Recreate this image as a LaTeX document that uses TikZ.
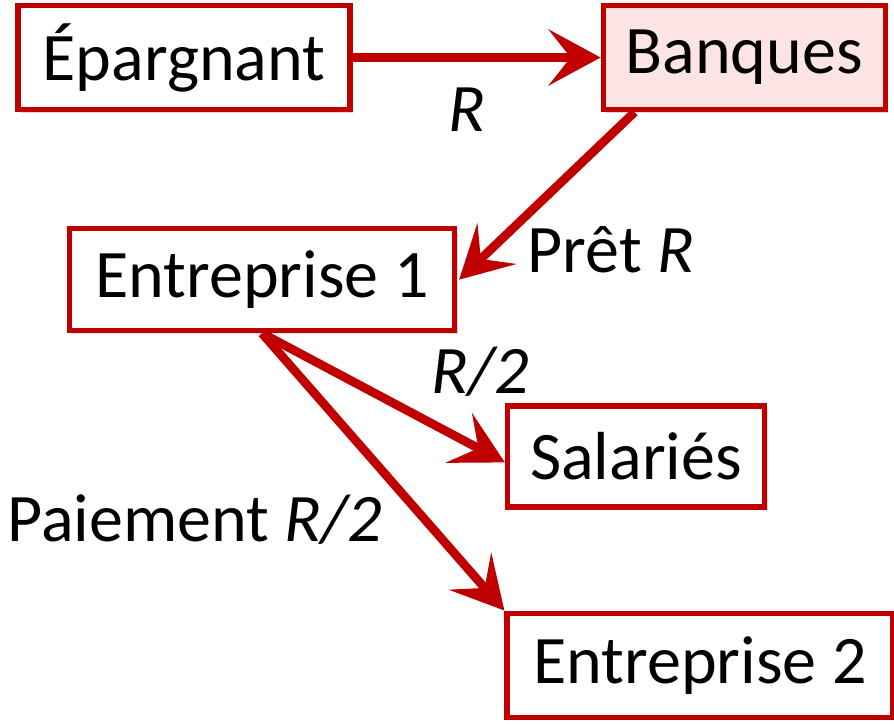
\documentclass[tikz,border=0pt]{standalone}
\usepackage{fontspec}
\setmainfont{Carlito}
\usetikzlibrary{positioning,arrows.meta,shadows}
\definecolor{rouge}{HTML}{C00000}
\definecolor{rose}{HTML}{FDE4E4}

\begin{document}
\begin{tikzpicture}[
	box/.style={draw=rouge, line width=2.6pt, fill=white, inner sep=0pt,
		minimum height=52pt, font=\fontsize{34}{40}\selectfont,
		drop shadow={shadow xshift=1.5pt, shadow yshift=-1.5pt, opacity=0.3}},
	flux/.style={draw=rouge, line width=4.4pt,
		-{Stealth[length=26pt, width=28pt, inset=11pt]}},
	lab/.style={font=\fontsize{34}{40}\selectfont}
]
			\useasboundingbox (0,0) rectangle (447pt,-362pt);

			\node[box, minimum width=166pt] (epargnant) at (92pt,-28.75pt) {Épargnant};
			\node[box, minimum width=141pt, fill=rose] (banques)[right=124pt of epargnant] {Banques};
			\node[box, minimum width=192.5pt, minimum height=51pt] (ent1)[below=57pt of epargnant, xshift=39pt] {Entreprise 1};
			\node[box, minimum width=128.5pt, minimum height=50.5pt] (salaries)[below=35pt of ent1, xshift=187pt] {Salariés};
			\node[box, minimum width=193pt] (ent2)[below=50.5pt of salaries, xshift=32pt] {Entreprise 2};

			\node[lab] (lR) at (233.5pt,-55pt) {\textit{R}};
			\node[lab] (lpret) at (305.5pt,-125pt) {Prêt \textit{R}};
			\node[lab] (lsal) at (240pt,-186pt) {\textit{R/2}};
			\node[lab] (lpaie) at (97.5pt,-260pt) {Paiement \textit{R/2}};

			\draw[flux] (epargnant.east) -- (banques.west);
			\draw[flux] ([xshift=17pt]banques.south west) -- ([xshift=1pt]ent1.east);
			\draw[flux] (ent1.south) -- ([yshift=-3pt]salaries.west);
			\draw[flux] (ent1.south) -- (ent2.north west);
		\end{tikzpicture}
\end{document}
